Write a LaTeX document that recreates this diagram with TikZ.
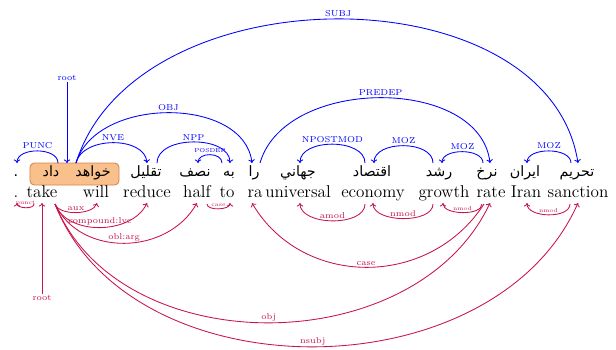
\documentclass[tikz,border=0pt]{standalone}
\usepackage{fontspec}
\newfontfamily\fa[Script=Arabic]{DejaVu Sans}
\TeXXeTstate=1
\usetikzlibrary{arrows.meta}
\definecolor{depblue}{RGB}{0,0,255}
\definecolor{depred}{RGB}{200,20,75}
\definecolor{boxfill}{RGB}{250,192,140}
\definecolor{boxline}{RGB}{205,135,80}
\begin{document}
\begin{tikzpicture}[x=0.7pt,y=-0.7pt,
  en/.style={anchor=base,inner sep=0pt,font=\fontsize{12}{14}\selectfont},
  faw/.style={anchor=base,inner sep=0pt,font=\fontsize{10}{12}\selectfont\fa},
  mwebox/.style={draw=boxline,fill=boxfill,rounded corners=3pt,line width=0.6pt,minimum width=62.3pt,minimum height=15.4pt,inner sep=0pt},
  barc/.style={draw=depblue,line width=0.6pt,-{To[length=2.5pt,width=4.5pt]}},
  rarc/.style={draw=depred,line width=0.6pt,-{To[length=2.5pt,width=4.5pt]}},
  blab/.style={text=depblue,font=\fontsize{6}{7}\selectfont,anchor=south,inner sep=1pt},
  rlab/.style={text=depred,font=\fontsize{6}{7}\selectfont,anchor=south,inner sep=1pt},
  tinylab/.style={font=\fontsize{4}{5}\selectfont}
]
\useasboundingbox (0,0) rectangle (616,349);
% multiword box
\node[mwebox] (mwe) at (74.5,174) {};
% Persian row
\node[faw] (f0) at (16,176) {.};
\node[faw] (f1) at (51,176) {\beginR داد\endR};
\node[faw] (f2) at (93,176) {\beginR خواهد\endR};
\node[faw] (f3) at (146,176) {\beginR تقليل\endR};
\node[faw] (f4) at (195,176) {\beginR نصف\endR};
\node[faw] (f5) at (229,176) {\beginR به\endR};
\node[faw] (f6) at (254,176) {\beginR را\endR};
\node[faw] (f7) at (298,176) {\beginR جهاني\endR};
\node[faw] (f8) at (372,176) {\beginR اقتصاد\endR};
\node[faw] (f9) at (439,176) {\beginR رشد\endR};
\node[faw] (f10) at (487,176) {\beginR نرخ\endR};
\node[faw] (f11) at (525,176) {\beginR ايران\endR};
\node[faw] (f12) at (577,176) {\beginR تحريم\endR};
% English row
\node[en] (e0) at (16,197) {.};
\node[en] (e1) at (42,197) {take};
\node[en] (e2) at (96,197) {will};
\node[en] (e3) at (147,197) {reduce};
\node[en] (e4) at (197,197) {half};
\node[en] (e5) at (227,197) {to};
\node[en] (e6) at (255,197) {ra};
\node[en] (e7) at (298,197) {universal};
\node[en] (e8) at (373,197) {economy};
\node[en] (e9) at (444,197) {growth};
\node[en] (e10) at (491,197) {rate};
\node[en] (e11) at (526,197) {Iran};
\node[en] (e12) at (578,197) {sanction};
% blue anchor points
\coordinate (bhead) at (76,163);
\coordinate (bpuncs) at (58,163);
\coordinate (bdot) at (17,163);
\coordinate (breduce) at (147,163);
\coordinate (bra) at (252,163);
\coordinate (bsanc) at (578,163);
\coordinate (breduces) at (157,163);
\coordinate (bto) at (230,163);
\coordinate (btos) at (222,163);
\coordinate (bhalf) at (198,163);
\coordinate (bras) at (260,163);
\coordinate (brate) at (490,163);
\coordinate (becons) at (365,163);
\coordinate (buniv) at (300,163);
\coordinate (bgrows) at (433,163);
\coordinate (becon) at (374,163);
\coordinate (brates) at (483,163);
\coordinate (bgrow) at (442,163);
\coordinate (bsancs) at (571,163);
\coordinate (biran) at (527,163);
\coordinate (broot) at (67,163);
% blue root
\node[blab,anchor=center] (brl) at (67,78) {root};
\draw[barc] (brl) -- (broot);
% blue arcs
\draw[barc] (bpuncs) .. controls +(0,-16) and +(0,-16) .. (bdot) node[blab,pos=0.5] {PUNC};
\draw[barc] (bhead) .. controls +(6,-27) and +(-2,-27) .. (breduce) node[blab,pos=0.5] {NVE};
\draw[barc] (bhead) .. controls +(20,-67) and +(-8,-67) .. (bra) node[blab,pos=0.5] {OBJ};
\draw[barc] (bhead) .. controls +(60,-192) and +(-30,-192) .. (bsanc) node[blab,pos=0.5] {SUBJ};
\draw[barc] (breduces) .. controls +(0,-28) and +(0,-28) .. (bto) node[blab,pos=0.5] {NPP};
\draw[barc] (btos) .. controls +(0,-11) and +(0,-11) .. (bhalf) node[blab,tinylab,pos=0.5] {POSDEP};
\draw[barc] (bras) .. controls +(25,-87) and +(-10,-87) .. (brate) node[blab,pos=0.5] {PREDEP};
\draw[barc] (becons) .. controls +(0,-25) and +(0,-25) .. (buniv) node[blab,pos=0.5] {NPOSTMOD};
\draw[barc] (bgrows) .. controls +(0,-23) and +(0,-23) .. (becon) node[blab,pos=0.5] {MOZ};
\draw[barc] (brates) .. controls +(0,-15) and +(0,-15) .. (bgrow) node[blab,pos=0.5] {MOZ};
\draw[barc] (bsancs) .. controls +(0,-16) and +(0,-16) .. (biran) node[blab,pos=0.5] {MOZ};
% red anchor points
\coordinate (rpuncs) at (34,204);
\coordinate (rdot) at (17,203);
\coordinate (rtake) at (55,204);
\coordinate (rwill) at (97,203);
\coordinate (rreduce) at (147,203);
\coordinate (rhalf) at (197,203);
\coordinate (rhalfs) at (207,204);
\coordinate (rto) at (230,203);
\coordinate (rrates) at (484,204);
\coordinate (rra) at (252,203);
\coordinate (recons) at (365,204);
\coordinate (runiv) at (300,203);
\coordinate (rgrows) at (433,204);
\coordinate (recon) at (373,203);
\coordinate (rrates2) at (482,204);
\coordinate (rgrow) at (443,203);
\coordinate (rsancs) at (570,204);
\coordinate (riran) at (527,203);
\coordinate (rrate) at (490,203);
\coordinate (rsanc) at (578,203);
\coordinate (rroot) at (42,203);
% red root
\node[rlab,anchor=center] (rrl) at (42,298) {root};
\draw[rarc] (rrl) -- (rroot);
% red arcs
\draw[rarc] (rpuncs) .. controls +(0,5.5) and +(0,5.5) .. (rdot) node[rlab,tinylab,pos=0.5] {punct};
\draw[rarc] (rtake) .. controls +(4,12) and +(-4,12) .. (rwill) node[rlab,pos=0.5] {aux};
\draw[rarc] (rtake) .. controls +(12,32) and +(-15,32) .. (rreduce) node[rlab,pos=0.5] {compound:lvc};
\draw[rarc] (rtake) .. controls +(25,53) and +(-30,53) .. (rhalf) node[rlab,pos=0.5] {obl:arg};
\draw[rarc] (rhalfs) .. controls +(0,7) and +(0,7) .. (rto) node[rlab,tinylab,pos=0.5] {case};
\draw[rarc] (rrates) .. controls +(-55,85) and +(50,85) .. (rra) node[rlab,pos=0.5] {case};
\draw[rarc] (recons) .. controls +(0,23) and +(0,23) .. (runiv) node[rlab,pos=0.5] {amod};
\draw[rarc] (rgrows) .. controls +(0,20) and +(0,20) .. (recon) node[rlab,pos=0.5] {nmod};
\draw[rarc] (rrates2) .. controls +(0,12) and +(0,12) .. (rgrow) node[rlab,tinylab,pos=0.5] {nmod};
\draw[rarc] (rsancs) .. controls +(0,15) and +(0,15) .. (riran) node[rlab,tinylab,pos=0.5] {nmod};
\draw[rarc] (rtake) .. controls +(65,159) and +(-75,159) .. (rrate) node[rlab,pos=0.5] {obj};
\draw[rarc] (rtake) .. controls +(75,191) and +(-85,191) .. (rsanc) node[rlab,pos=0.5] {nsubj};
\end{tikzpicture}
\end{document}
